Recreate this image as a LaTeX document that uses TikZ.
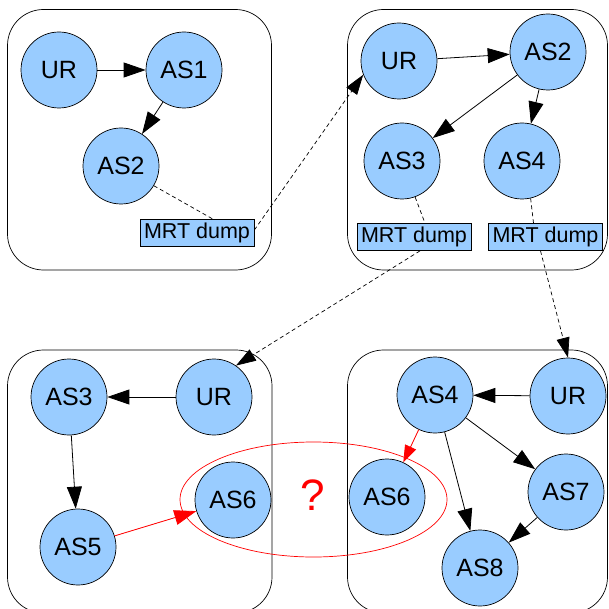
\documentclass[tikz,border=0pt]{standalone}
\usepackage{fontspec}
\setmainfont{Liberation Sans}
\usetikzlibrary{arrows.meta,calc}
\definecolor{nodeblue}{HTML}{99CCFF}
\begin{document}
\begin{tikzpicture}[x=1pt,y=-1pt,
  asnode/.style={circle, draw=black, line width=0.7pt, fill=nodeblue, minimum size=76pt, inner sep=0pt, font=\fontsize{25}{25}\selectfont},
  mrt/.style={draw=black, fill=nodeblue, line width=0.7pt, minimum width=114pt, minimum height=27pt, inner sep=0pt, font=\fontsize{21.5}{21.5}\selectfont},
  panel/.style={draw=black, rounded corners=36pt, line width=0.7pt},
  edge/.style={-{Triangle[length=22pt,width=15pt]}, line width=0.8pt},
  redge/.style={edge, draw=red, fill=red},
  dumpline/.style={dash pattern=on 4pt off 3pt, line width=0.7pt},
  darrow/.style={dumpline, -{Triangle[length=20pt,width=13pt]}}
]
\clip (0,0) rectangle (609,609);
\useasboundingbox (0,0) rectangle (609,609);
\fill[white] (0,0) rectangle (609,609);
% panels
\draw[panel] (7.5,9.5) rectangle (271.5,270);
\draw[panel] (347.5,9.5) rectangle (607.5,270);
\draw[panel] (7.5,350) rectangle (272,613);
\draw[panel] (347.5,350) rectangle (607.5,613);
% red ellipse
\draw[red, line width=0.7pt] (313.5,499.5) ellipse [x radius=133.5pt, y radius=57.5pt];
\node[red, font=\fontsize{44}{44}\selectfont] (q) at (313,495) {?};
% panel 1
\node[asnode] (ur1) at (59,70) {UR};
\node[asnode] (as1a) at (184,70) {AS1};
\node[asnode] (as2a) at (121,166) {AS2};
\node[mrt] (m1) at (197,233) {MRT dump};
% panel 2
\node[asnode] (ur2) at (399,61) {UR};
\node[asnode] (as2b) at (548,52) {AS2};
\node[asnode] (as3b) at (402,161) {AS3};
\node[asnode] (as4b) at (522,161) {AS4};
\node[mrt] (m2) at (414,237) {MRT dump};
\node[mrt] (m3) at (545.5,237) {MRT dump};
% panel 3
\node[asnode] (as3c) at (69,397) {AS3};
\node[asnode] (ur3) at (214,397) {UR};
\node[asnode] (as5c) at (78,547) {AS5};
\node[asnode] (as6c) at (233,500) {AS6};
% panel 4
\node[asnode] (as4d) at (435,395) {AS4};
\node[asnode] (ur4) at (568,396) {UR};
\node[asnode] (as6d) at (387,497) {AS6};
\node[asnode] (as7d) at (566,492) {AS7};
\node[asnode] (as8d) at (480,568) {AS8};
% edges
\draw[edge] (ur1) -- (as1a);
\draw[edge] (as1a) -- (as2a);
\draw[edge] (ur2) -- (as2b);
\draw[edge] (as2b) -- (as3b);
\draw[edge] (as2b) -- (as4b);
\draw[edge] (ur3) -- (as3c);
\draw[edge] (as3c) -- (as5c);
\draw[redge] (as5c) -- (as6c);
\draw[edge] (ur4) -- (as4d);
\draw[edge, draw=red, fill=red, -{Triangle[length=17pt,width=12pt]}] (as4d) -- (as6d);
\draw[edge] (as4d) -- (as7d);
\draw[edge] (as4d) -- (as8d);
\draw[edge] (as7d) -- (as8d);
% dump lines
\draw[dumpline] (as2a.329) -- ($(m1.north)+(16,0)$);
\draw[dumpline] (as3b.290) -- ($(m2.north)+(11,0)$);
\draw[dumpline] (as4b.283) -- ($(m3.north)+(-12,0)$);
\draw[darrow] ($(m1.east)+(0,-3)$) -- (ur2.201);
\draw[darrow] ($(m2.south)+(6,0)$) -- (ur3.55);
\draw[darrow] ($(m3.south)+(-5,0)$) -- (ur4.north);
\end{tikzpicture}
\end{document}
